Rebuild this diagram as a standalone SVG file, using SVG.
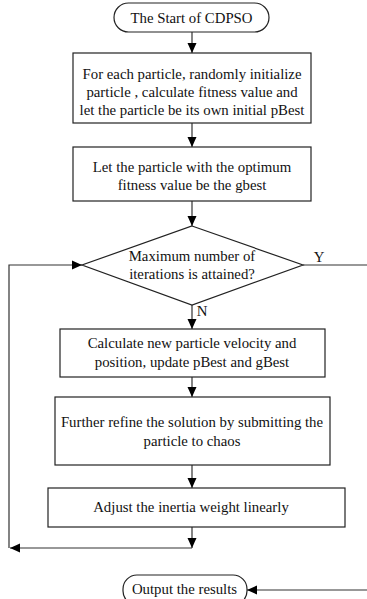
<svg xmlns="http://www.w3.org/2000/svg" width="367" height="599" viewBox="0 0 367 599">
<defs>
<marker id="ah" markerWidth="11" markerHeight="11" refX="10" refY="5" orient="auto" markerUnits="userSpaceOnUse">
<path d="M0,0.5 L10,5 L0,9.5 Z" fill="#000"/>
</marker>
<style>
.box{fill:#fff;stroke:#222;stroke-width:1.2}
.ln{fill:none;stroke:#333;stroke-width:1.2}
text{font-size:14.8px;fill:#111;text-anchor:middle}
</style>
</defs>
<rect width="367" height="599" fill="#fff"/>
<g font-family="'Liberation Serif', 'DejaVu Serif', serif">
<g id="connectors">
<line class="ln" x1="192" y1="32" x2="192" y2="53" marker-end="url(#ah)"/>
<line class="ln" x1="192" y1="123" x2="192" y2="147" marker-end="url(#ah)"/>
<line class="ln" x1="192" y1="201" x2="192" y2="226" marker-end="url(#ah)"/>
<line class="ln" x1="192" y1="305" x2="192" y2="329" marker-end="url(#ah)"/>
<line class="ln" x1="192" y1="377" x2="192" y2="397" marker-end="url(#ah)"/>
<line class="ln" x1="192" y1="465" x2="192" y2="488" marker-end="url(#ah)"/>
<line class="ln" x1="192" y1="527" x2="192" y2="548" marker-end="url(#ah)"/>
<line class="ln" x1="192" y1="548" x2="10" y2="548" marker-end="url(#ah)"/>
<polyline class="ln" points="9,548 9,265 82,265" marker-end="url(#ah)"/>
<line class="ln" x1="303" y1="265" x2="367" y2="265"/>
<line class="ln" x1="367" y1="590" x2="247" y2="590" marker-end="url(#ah)"/>
<text x="319" y="262">Y</text>
<text x="202" y="316">N</text>
</g>
<g id="start">
<rect class="box" x="114" y="3" width="155" height="29" rx="14.5"/>
<text x="191.5" y="23">The Start of CDPSO</text>
</g>
<g id="init">
<rect class="box" x="73" y="53" width="238" height="70"/>
<text x="192" y="79">For each particle, randomly initialize</text>
<text x="192" y="97">particle , calculate fitness value and</text>
<text x="192" y="115">let the particle be its own initial pBest</text>
</g>
<g id="gbest">
<rect class="box" x="73" y="147" width="238" height="54"/>
<text x="192" y="172">Let the particle with the optimum</text>
<text x="192" y="190">fitness value be the gbest</text>
</g>
<g id="decision">
<polygon class="box" points="192,226 303,265 192,305 82,265"/>
<text x="192" y="261">Maximum number of</text>
<text x="192" y="279">iterations is attained?</text>
</g>
<g id="update">
<rect class="box" x="60" y="329" width="265" height="48"/>
<text x="192" y="348">Calculate new particle velocity and</text>
<text x="192" y="367">position, update pBest and gBest</text>
</g>
<g id="chaos">
<rect class="box" x="55" y="397" width="275" height="68"/>
<text x="192" y="427">Further refine the solution by submitting the</text>
<text x="192" y="446">particle to chaos</text>
</g>
<g id="inertia">
<rect class="box" x="48" y="488" width="297" height="39"/>
<text x="191" y="512">Adjust the inertia weight linearly</text>
</g>
<g id="output">
<rect class="box" x="123" y="575" width="124" height="30" rx="14"/>
<text x="184.5" y="594">Output the results</text>
</g>
</g>
</svg>
